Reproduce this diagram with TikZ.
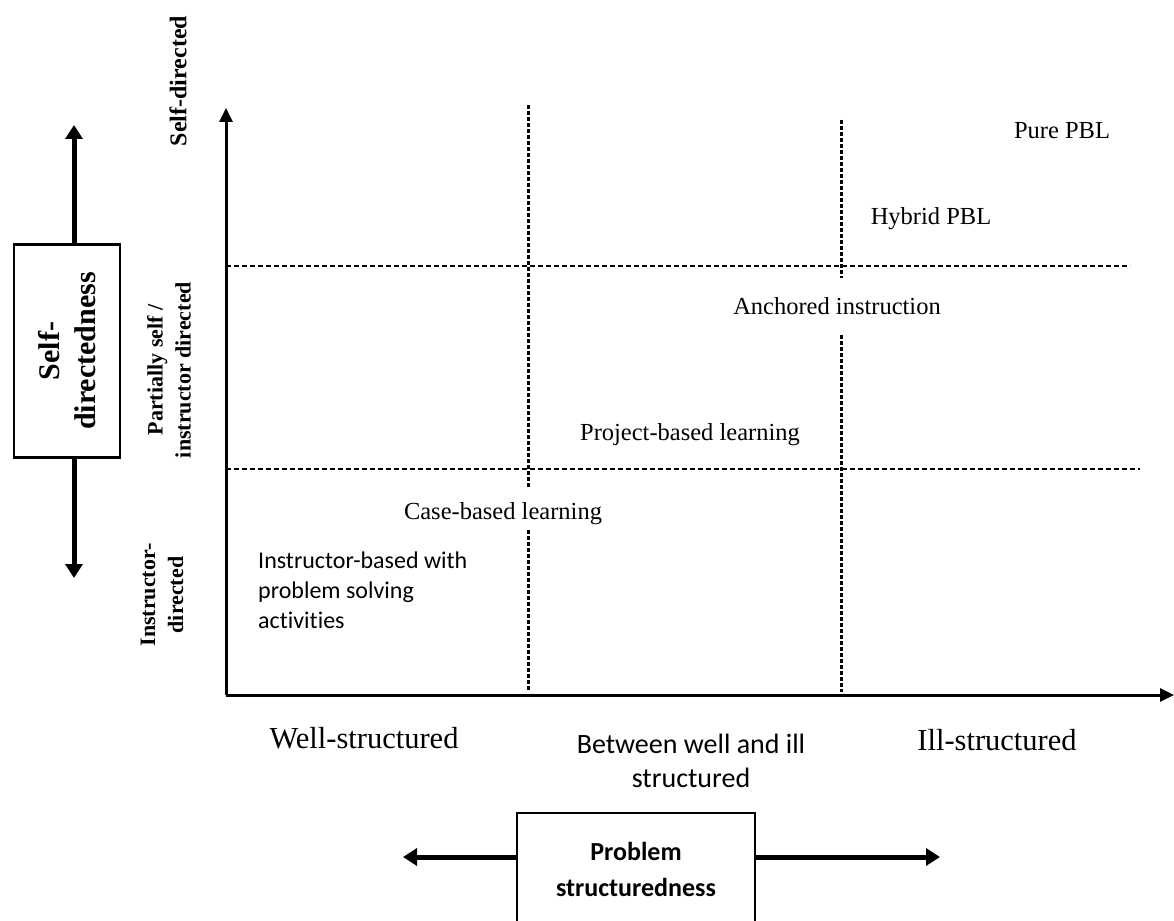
\documentclass[tikz,border=0pt]{standalone}
\usepackage{fontspec}
\setmainfont{Liberation Serif}
\newfontfamily\calibri[Ligatures=NoCommon]{Carlito}
\usetikzlibrary{arrows.meta}

\begin{document}
\begin{tikzpicture}[x=1pt,y=-1pt,
  axis/.style={line width=3pt,-{Triangle[width=13pt,length=14pt]}},
  guide/.style={line width=1.4pt,dash pattern=on 5pt off 3pt},
  divider/.style={line width=3pt,dash pattern=on 4pt off 2pt},
  boxarrow/.style={line width=5pt,-{Triangle[width=17pt,length=14pt]}},
  dimbox/.style={draw,line width=2.5pt,align=center,inner sep=0pt},
  lbl/.style={inner sep=0pt,font=\fontsize{24.5}{29}\selectfont},
  sidelbl/.style={inner sep=0pt,align=center,rotate=90,font=\fontsize{22}{28}\selectfont\bfseries},
  catlbl/.style={inner sep=0pt,font=\fontsize{30.5}{36}\selectfont},
  sanslbl/.style={inner sep=0pt,align=center,font=\calibri\fontsize{28}{34}\selectfont}]

\useasboundingbox (0,0) rectangle (1174,920);
\fill[white] (0,0) rectangle (1174,920);

% axes
\coordinate (O) at (226,695);
\coordinate (ytip) at (226,108);
\coordinate (xtip) at (1174,695);
\draw[axis] (O) -- (ytip);
\draw[axis] (O) -- (xtip);

% horizontal level guides
\coordinate (h1a) at (226,266);  \coordinate (h1b) at (1130,266);
\coordinate (h2a) at (226,469);  \coordinate (h2b) at (1140,469);
\draw[guide] (h1a) -- (h1b);
\draw[guide] (h2a) -- (h2b);

% vertical dividers (interrupted around labels)
\coordinate (v1a) at (528,105); \coordinate (v1b) at (528,488);
\coordinate (v1c) at (528,530); \coordinate (v1d) at (528,690);
\coordinate (v2a) at (841,120); \coordinate (v2b) at (841,278);
\coordinate (v2c) at (841,335); \coordinate (v2d) at (841,692);
\draw[divider] (v1a) -- (v1b);
\draw[divider] (v1c) -- (v1d);
\draw[divider] (v2a) -- (v2b);
\draw[divider] (v2c) -- (v2d);

% approaches placed in the grid
\node[lbl] (pure)    at (1062,131) {Pure PBL};
\node[lbl] (hybrid)  at (931,219)  {Hybrid PBL};
\node[lbl] (anchor)  at (837,306)  {Anchored instruction};
\node[lbl] (project) at (690,435)  {Project-based learning};
\node[lbl] (case)    at (503,514)  {Case-based learning};
\node[inner sep=0pt,align=left,anchor=north west,
      font=\calibri\fontsize{24}{30}\selectfont] (instr) at (258,552)
      {Instructor-based with\\problem solving\\activities};

% vertical axis levels
\node[sidelbl,font=\fontsize{24}{28}\selectfont\bfseries] (lvtop) at (178,81) {Self-directed};
\node[sidelbl] (lvmid) at (169,370) {Partially self /\\instructor directed};
\node[sidelbl] (lvlow) at (162,595) {Instructor-\\directed};

% horizontal axis levels
\node[catlbl]  (well)    at (364,738) {Well-structured};
\node[sanslbl] (between) at (691,761) {Between well and ill\\structured};
\node[catlbl]  (ill)     at (997,740) {Ill-structured};

% self-directedness dimension
\node[dimbox,minimum width=213pt,minimum height=106pt,rotate=90,
      font=\fontsize{30}{36}\selectfont\bfseries] (sdbox) at (67,351)
      {Self-\\directedness};
\coordinate (sdup) at (74,125);
\coordinate (sddown) at (74,578);
\draw[boxarrow] ([xshift=7pt]sdbox.east) -- (sdup);
\draw[boxarrow] ([xshift=7pt]sdbox.west) -- (sddown);

% problem structuredness dimension
\node[dimbox,minimum width=238pt,minimum height=112pt,
      font=\calibri\fontsize{26}{36}\selectfont\bfseries] (psbox) at (636,869)
      {Problem\\structuredness};
\coordinate (psleft) at (403,857);
\coordinate (psright) at (940,857);
\draw[boxarrow] ([yshift=12pt]psbox.west) -- (psleft);
\draw[boxarrow] ([yshift=12pt]psbox.east) -- (psright);

\end{tikzpicture}
\end{document}
